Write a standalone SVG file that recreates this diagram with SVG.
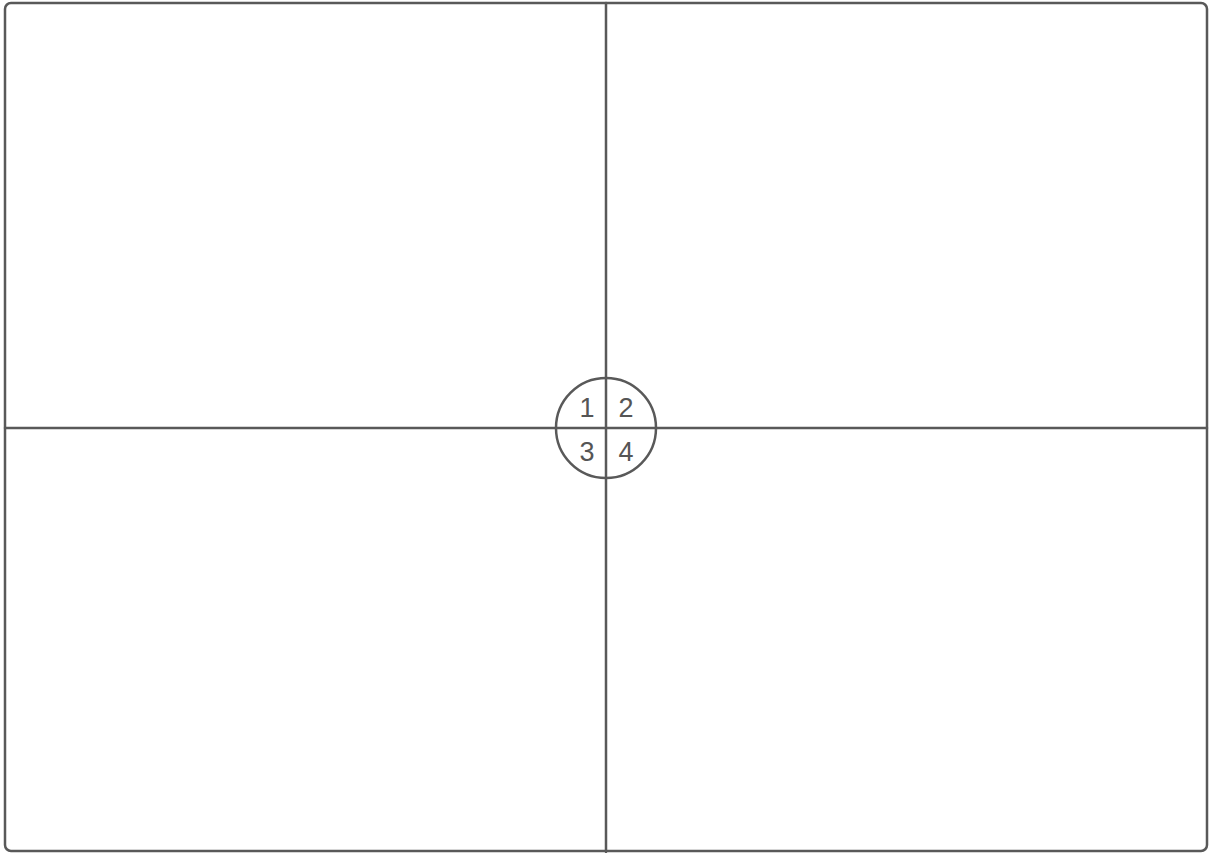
<svg xmlns="http://www.w3.org/2000/svg" width="1209" height="853" viewBox="0 0 1209 853">
<style>
.s{fill:none;stroke:#595959;stroke-width:2.5;stroke-linecap:round}
.t{font-family:"Liberation Sans",Arial,sans-serif;font-size:27px;fill:#555;text-anchor:middle;dominant-baseline:central}
</style>
<rect width="1209" height="853" fill="#fff"/>
<g id="frame"><rect class="s" x="5" y="3" width="1202" height="848" rx="6"/></g>
<g id="connectors">
<line class="s" x1="606" y1="3" x2="606" y2="852"/>
<line class="s" x1="5" y1="428" x2="1207" y2="428"/>
</g>
<g id="quadrant-circle">
<circle class="s" cx="606" cy="428" r="50"/>
<text class="t" x="587" y="408">1</text>
<text class="t" x="626" y="408">2</text>
<text class="t" x="587" y="452">3</text>
<text class="t" x="626" y="452">4</text>
</g>
</svg>
